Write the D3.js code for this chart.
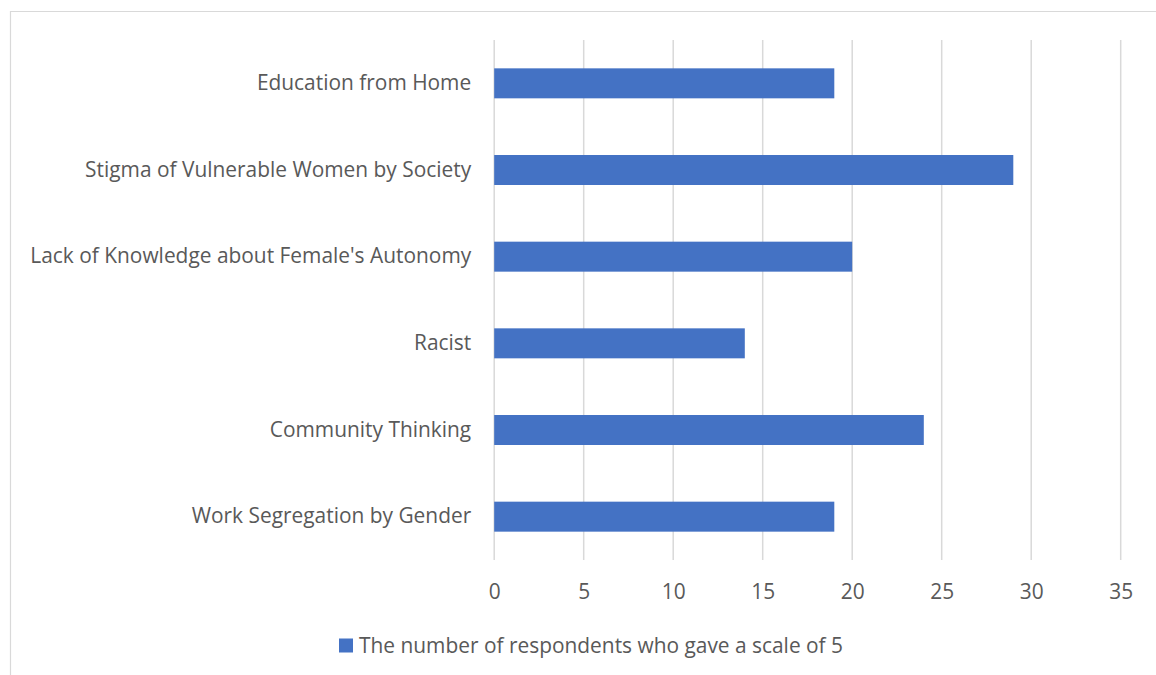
<!DOCTYPE html>
<html><head><meta charset="utf-8">
<script src="https://cdn.jsdelivr.net/npm/d3@7"></script>
<style>body{margin:0;background:#fff}svg{display:block}text{font-family:"Open Sans",sans-serif;fill:#595959}</style>
</head><body>
<svg id="c" width="1156" height="675"></svg>
<script>
const categories = ["Education from Home","Stigma of Vulnerable Women by Society","Lack of Knowledge about Female's Autonomy","Racist","Community Thinking","Work Segregation by Gender"];
const values = [19,29,20,14,24,19];
const xTicks = [0,5,10,15,20,25,30,35];
const seriesName = "The number of respondents who gave a scale of 5";

const svg = d3.select("#c");
const pL = 494.2, pR = 1120.7, pT = 40, pB = 560;
const fs = 20.9;
svg.append("path").attr("d","M10.5,675 V11.5 H1156").attr("fill","none").attr("stroke","#d9d9d9").attr("stroke-width",1.2);

const x = d3.scaleLinear().domain([0,35]).range([pL,pR]);
const y = d3.scaleBand().domain(categories).range([pT,pB]).paddingInner(0.654).paddingOuter(0.327);

svg.append("g").selectAll("line").data(xTicks).join("line")
  .attr("x1",d=>x(d)).attr("x2",d=>x(d)).attr("y1",pT).attr("y2",pB)
  .attr("stroke","#d9d9d9").attr("stroke-width",1.5);

svg.append("g").selectAll("rect").data(values).join("rect")
  .attr("x",x(0)).attr("y",(d,i)=>y(categories[i])).attr("width",d=>x(d)-x(0)).attr("height",y.bandwidth())
  .attr("fill","#4472c4");

const xa = svg.append("g").attr("transform",`translate(0,${pB})`).call(d3.axisBottom(x).tickValues(xTicks).tickSize(0).tickPadding(24));
xa.select(".domain").remove();
xa.selectAll("text").attr("font-size",fs).style("font-family","Open Sans").attr("fill","#595959");

const ya = svg.append("g").attr("transform",`translate(${pL},0)`).call(d3.axisLeft(y).tickSize(0).tickPadding(23));
ya.select(".domain").remove();
ya.selectAll("text").attr("font-size",fs).style("font-family","Open Sans").attr("fill","#595959");

const lg = svg.append("g");
lg.append("rect").attr("x",339).attr("y",638.5).attr("width",14).attr("height",14).attr("fill","#4472c4");
lg.append("text").attr("x",359).attr("y",645.5).attr("dy","0.35em").attr("font-size",fs).text(seriesName);
</script>
</body></html>
